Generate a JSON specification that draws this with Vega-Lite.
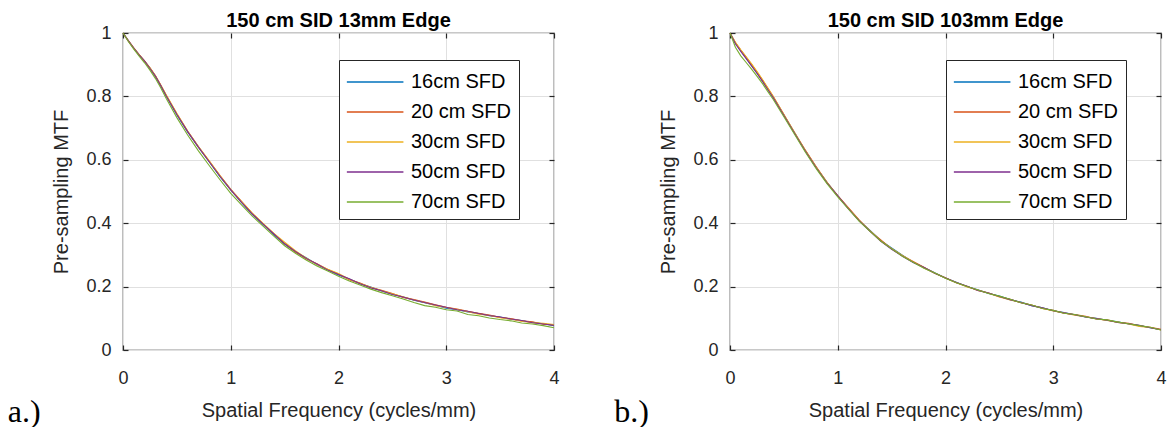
{
  "$schema": "https://vega.github.io/schema/vega-lite/v6.json",
  "background": "white",
  "padding": {"left": 7, "top": 10, "right": 5, "bottom": 0},
  "bounds": "flush",
  "spacing": 176,
  "config": {
    "font": "Liberation Sans",
    "view": {"stroke": "#262626", "strokeWidth": 1.2},
    "axis": {
      "domain": false,
      "grid": true,
      "gridColor": "#e0e0e0",
      "gridWidth": 1,
      "tickColor": "#262626",
      "tickSize": -5,
      "tickWidth": 1.2,
      "labelFlush": false,
      "labelFont": "Liberation Sans",
      "labelFontSize": 18,
      "labelColor": "#262626",
      "titleFont": "Liberation Sans",
      "titleFontSize": 20,
      "titleFontWeight": "normal",
      "titleColor": "#262626"
    },
    "legend": {
      "orient": "none",
      "legendX": 216,
      "legendY": 27,
      "title": null,
      "symbolType": "M-1,0H3",
      "symbolSize": 800,
      "symbolStrokeWidth": 1.4,
      "labelFont": "Liberation Sans",
      "labelFontSize": 20,
      "labelColor": "#000000",
      "labelOffset": 35,
      "labelLimit": 300,
      "padding": 7,
      "rowPadding": 5,
      "strokeColor": "#262626",
      "fillColor": "white"
    },
    "title": {
      "font": "Liberation Sans",
      "fontSize": 20,
      "fontWeight": "bold",
      "color": "#000000",
      "offset": -7,
      "baseline": "alphabetic",
      "anchor": "middle",
      "frame": "group"
    }
  },
  "resolve": {
    "scale": {"color": "independent", "x": "independent", "y": "independent"},
    "legend": {"color": "independent"}
  },
  "datasets": {
    "a": [
      {"f": 0, "s16": 1, "s20": 1, "s30": 1, "s50": 1, "s70": 1},
      {"f": 0.05, "s16": 0.975, "s20": 0.976, "s30": 0.974, "s50": 0.975, "s70": 0.973},
      {"f": 0.1, "s16": 0.952, "s20": 0.953, "s30": 0.951, "s50": 0.952, "s70": 0.949},
      {"f": 0.15, "s16": 0.931, "s20": 0.932, "s30": 0.931, "s50": 0.93, "s70": 0.927},
      {"f": 0.2, "s16": 0.911, "s20": 0.912, "s30": 0.91, "s50": 0.911, "s70": 0.906},
      {"f": 0.25, "s16": 0.889, "s20": 0.89, "s30": 0.89, "s50": 0.888, "s70": 0.883},
      {"f": 0.3, "s16": 0.864, "s20": 0.866, "s30": 0.865, "s50": 0.864, "s70": 0.857},
      {"f": 0.35, "s16": 0.834, "s20": 0.836, "s30": 0.836, "s50": 0.834, "s70": 0.827},
      {"f": 0.4, "s16": 0.802, "s20": 0.804, "s30": 0.805, "s50": 0.802, "s70": 0.794},
      {"f": 0.5, "s16": 0.742, "s20": 0.745, "s30": 0.746, "s50": 0.743, "s70": 0.733},
      {"f": 0.6, "s16": 0.688, "s20": 0.69, "s30": 0.691, "s50": 0.689, "s70": 0.678},
      {"f": 0.7, "s16": 0.64, "s20": 0.641, "s30": 0.642, "s50": 0.64, "s70": 0.628},
      {"f": 0.8, "s16": 0.594, "s20": 0.596, "s30": 0.597, "s50": 0.594, "s70": 0.582},
      {"f": 0.9, "s16": 0.547, "s20": 0.55, "s30": 0.55, "s50": 0.548, "s70": 0.537},
      {"f": 1.0, "s16": 0.505, "s20": 0.507, "s30": 0.506, "s50": 0.505, "s70": 0.494},
      {"f": 1.1, "s16": 0.466, "s20": 0.469, "s30": 0.468, "s50": 0.466, "s70": 0.458},
      {"f": 1.2, "s16": 0.428, "s20": 0.431, "s30": 0.432, "s50": 0.429, "s70": 0.422},
      {"f": 1.3, "s16": 0.396, "s20": 0.398, "s30": 0.399, "s50": 0.397, "s70": 0.391},
      {"f": 1.4, "s16": 0.364, "s20": 0.367, "s30": 0.368, "s50": 0.366, "s70": 0.359},
      {"f": 1.5, "s16": 0.334, "s20": 0.336, "s30": 0.34, "s50": 0.335, "s70": 0.329},
      {"f": 1.6, "s16": 0.31, "s20": 0.309, "s30": 0.313, "s50": 0.311, "s70": 0.305},
      {"f": 1.7, "s16": 0.291, "s20": 0.288, "s30": 0.29, "s50": 0.289, "s70": 0.284},
      {"f": 1.8, "s16": 0.27, "s20": 0.272, "s30": 0.27, "s50": 0.271, "s70": 0.265},
      {"f": 1.9, "s16": 0.253, "s20": 0.254, "s30": 0.255, "s50": 0.252, "s70": 0.249},
      {"f": 2.0, "s16": 0.237, "s20": 0.24, "s30": 0.241, "s50": 0.238, "s70": 0.233},
      {"f": 2.1, "s16": 0.224, "s20": 0.222, "s30": 0.223, "s50": 0.225, "s70": 0.218},
      {"f": 2.2, "s16": 0.209, "s20": 0.211, "s30": 0.21, "s50": 0.209, "s70": 0.205},
      {"f": 2.3, "s16": 0.199, "s20": 0.197, "s30": 0.198, "s50": 0.196, "s70": 0.192},
      {"f": 2.4, "s16": 0.186, "s20": 0.188, "s30": 0.187, "s50": 0.187, "s70": 0.181},
      {"f": 2.5, "s16": 0.176, "s20": 0.178, "s30": 0.177, "s50": 0.175, "s70": 0.171},
      {"f": 2.6, "s16": 0.167, "s20": 0.166, "s30": 0.168, "s50": 0.167, "s70": 0.161},
      {"f": 2.7, "s16": 0.157, "s20": 0.159, "s30": 0.158, "s50": 0.158, "s70": 0.15},
      {"f": 2.8, "s16": 0.149, "s20": 0.151, "s30": 0.15, "s50": 0.15, "s70": 0.14},
      {"f": 2.9, "s16": 0.141, "s20": 0.143, "s30": 0.14, "s50": 0.142, "s70": 0.135},
      {"f": 3.0, "s16": 0.132, "s20": 0.135, "s30": 0.134, "s50": 0.135, "s70": 0.127},
      {"f": 3.1, "s16": 0.127, "s20": 0.129, "s30": 0.128, "s50": 0.127, "s70": 0.123},
      {"f": 3.2, "s16": 0.12, "s20": 0.122, "s30": 0.121, "s50": 0.122, "s70": 0.112},
      {"f": 3.3, "s16": 0.115, "s20": 0.116, "s30": 0.113, "s50": 0.115, "s70": 0.108},
      {"f": 3.4, "s16": 0.108, "s20": 0.11, "s30": 0.109, "s50": 0.109, "s70": 0.101},
      {"f": 3.5, "s16": 0.104, "s20": 0.103, "s30": 0.102, "s50": 0.104, "s70": 0.096},
      {"f": 3.6, "s16": 0.097, "s20": 0.099, "s30": 0.097, "s50": 0.098, "s70": 0.092},
      {"f": 3.7, "s16": 0.093, "s20": 0.092, "s30": 0.091, "s50": 0.093, "s70": 0.085},
      {"f": 3.8, "s16": 0.087, "s20": 0.089, "s30": 0.086, "s50": 0.086, "s70": 0.082},
      {"f": 3.9, "s16": 0.083, "s20": 0.081, "s30": 0.084, "s50": 0.082, "s70": 0.077},
      {"f": 4.0, "s16": 0.077, "s20": 0.079, "s30": 0.08, "s50": 0.078, "s70": 0.07}
    ],
    "b": [
      {"f": 0, "s16": 1, "s20": 1, "s30": 1, "s50": 1, "s70": 1},
      {"f": 0.05, "s16": 0.968, "s20": 0.97, "s30": 0.971, "s50": 0.966, "s70": 0.955},
      {"f": 0.1, "s16": 0.944, "s20": 0.946, "s30": 0.947, "s50": 0.942, "s70": 0.928},
      {"f": 0.15, "s16": 0.921, "s20": 0.924, "s30": 0.925, "s50": 0.919, "s70": 0.907},
      {"f": 0.2, "s16": 0.898, "s20": 0.901, "s30": 0.903, "s50": 0.896, "s70": 0.886},
      {"f": 0.25, "s16": 0.874, "s20": 0.877, "s30": 0.879, "s50": 0.873, "s70": 0.864},
      {"f": 0.3, "s16": 0.85, "s20": 0.852, "s30": 0.854, "s50": 0.848, "s70": 0.841},
      {"f": 0.35, "s16": 0.824, "s20": 0.826, "s30": 0.827, "s50": 0.822, "s70": 0.816},
      {"f": 0.4, "s16": 0.798, "s20": 0.8, "s30": 0.8, "s50": 0.796, "s70": 0.791},
      {"f": 0.5, "s16": 0.741, "s20": 0.743, "s30": 0.743, "s50": 0.74, "s70": 0.736},
      {"f": 0.6, "s16": 0.685, "s20": 0.684, "s30": 0.686, "s50": 0.683, "s70": 0.68},
      {"f": 0.7, "s16": 0.628, "s20": 0.63, "s30": 0.629, "s50": 0.627, "s70": 0.624},
      {"f": 0.8, "s16": 0.576, "s20": 0.578, "s30": 0.577, "s50": 0.575, "s70": 0.572},
      {"f": 0.9, "s16": 0.529, "s20": 0.528, "s30": 0.53, "s50": 0.527, "s70": 0.525},
      {"f": 1.0, "s16": 0.486, "s20": 0.487, "s30": 0.485, "s50": 0.486, "s70": 0.483},
      {"f": 1.1, "s16": 0.446, "s20": 0.448, "s30": 0.447, "s50": 0.445, "s70": 0.444},
      {"f": 1.2, "s16": 0.408, "s20": 0.41, "s30": 0.409, "s50": 0.407, "s70": 0.406},
      {"f": 1.3, "s16": 0.377, "s20": 0.375, "s30": 0.376, "s50": 0.374, "s70": 0.374},
      {"f": 1.4, "s16": 0.345, "s20": 0.347, "s30": 0.344, "s50": 0.343, "s70": 0.344},
      {"f": 1.5, "s16": 0.322, "s20": 0.319, "s30": 0.32, "s50": 0.318, "s70": 0.319},
      {"f": 1.6, "s16": 0.299, "s20": 0.297, "s30": 0.298, "s50": 0.296, "s70": 0.296},
      {"f": 1.7, "s16": 0.277, "s20": 0.279, "s30": 0.278, "s50": 0.276, "s70": 0.277},
      {"f": 1.8, "s16": 0.26, "s20": 0.261, "s30": 0.259, "s50": 0.26, "s70": 0.258},
      {"f": 1.9, "s16": 0.244, "s20": 0.242, "s30": 0.243, "s50": 0.242, "s70": 0.243},
      {"f": 2.0, "s16": 0.227, "s20": 0.228, "s30": 0.226, "s50": 0.227, "s70": 0.226},
      {"f": 2.1, "s16": 0.214, "s20": 0.212, "s30": 0.213, "s50": 0.213, "s70": 0.212},
      {"f": 2.2, "s16": 0.2, "s20": 0.201, "s30": 0.199, "s50": 0.201, "s70": 0.2},
      {"f": 2.3, "s16": 0.19, "s20": 0.188, "s30": 0.189, "s50": 0.188, "s70": 0.189},
      {"f": 2.4, "s16": 0.178, "s20": 0.18, "s30": 0.179, "s50": 0.18, "s70": 0.178},
      {"f": 2.5, "s16": 0.17, "s20": 0.168, "s30": 0.167, "s50": 0.169, "s70": 0.17},
      {"f": 2.6, "s16": 0.159, "s20": 0.16, "s30": 0.158, "s50": 0.159, "s70": 0.16},
      {"f": 2.7, "s16": 0.151, "s20": 0.149, "s30": 0.15, "s50": 0.15, "s70": 0.149},
      {"f": 2.8, "s16": 0.14, "s20": 0.142, "s30": 0.141, "s50": 0.14, "s70": 0.142},
      {"f": 2.9, "s16": 0.133, "s20": 0.131, "s30": 0.132, "s50": 0.133, "s70": 0.131},
      {"f": 3.0, "s16": 0.124, "s20": 0.125, "s30": 0.123, "s50": 0.124, "s70": 0.125},
      {"f": 3.1, "s16": 0.118, "s20": 0.116, "s30": 0.117, "s50": 0.117, "s70": 0.116},
      {"f": 3.2, "s16": 0.111, "s20": 0.112, "s30": 0.11, "s50": 0.111, "s70": 0.112},
      {"f": 3.3, "s16": 0.104, "s20": 0.106, "s30": 0.105, "s50": 0.104, "s70": 0.105},
      {"f": 3.4, "s16": 0.1, "s20": 0.098, "s30": 0.099, "s50": 0.099, "s70": 0.098},
      {"f": 3.5, "s16": 0.094, "s20": 0.095, "s30": 0.093, "s50": 0.094, "s70": 0.095},
      {"f": 3.6, "s16": 0.089, "s20": 0.087, "s30": 0.088, "s50": 0.087, "s70": 0.088},
      {"f": 3.7, "s16": 0.082, "s20": 0.084, "s30": 0.082, "s50": 0.083, "s70": 0.083},
      {"f": 3.8, "s16": 0.077, "s20": 0.076, "s30": 0.074, "s50": 0.078, "s70": 0.077},
      {"f": 3.9, "s16": 0.07, "s20": 0.072, "s30": 0.071, "s50": 0.07, "s70": 0.072},
      {"f": 4.0, "s16": 0.064, "s20": 0.065, "s30": 0.063, "s50": 0.064, "s70": 0.063}
    ]
  },
  "hconcat": [
    {
      "width": 431,
      "height": 317,
      "title": {"text": "150 cm SID 13mm Edge"},
      "resolve": {"axis": {"x": "independent", "y": "independent"}},
      "layer": [
        {
          "data": {"name": "a"},
          "transform": [{"fold": ["s16", "s20", "s30", "s50", "s70"], "as": ["series", "mtf"]}],
          "mark": {"type": "line", "strokeWidth": 1.1},
          "encoding": {
            "x": {"field": "f", "type": "quantitative", "scale": {"domain": [0, 4], "nice": false},
              "axis": {"values": [0, 1, 2, 3, 4], "format": "d", "title": "Spatial Frequency (cycles/mm)", "labelPadding": 24, "titlePadding": 13}},
            "y": {"field": "mtf", "type": "quantitative", "scale": {"domain": [0, 1], "nice": false},
              "axis": {"values": [0, 0.2, 0.4, 0.6, 0.8, 1], "format": "~g", "title": "Pre-sampling MTF", "labelPadding": 17, "titlePadding": 14}},
            "color": {"field": "series", "type": "nominal",
              "scale": {"domain": ["s16", "s20", "s30", "s50", "s70"], "range": ["#0072BD", "#D95319", "#EDB120", "#7E2F8E", "#77AC30"]},
              "legend": {"labelExpr": "{'s16': '16cm SFD', 's20': '20 cm SFD', 's30': '30cm SFD', 's50': '50cm SFD', 's70': '70cm SFD'}[datum.label]"}}
          }
        },
        {
          "data": {"values": [{"lab": "a.)"}]},
          "mark": {"type": "text", "align": "left", "baseline": "alphabetic", "font": "Liberation Serif", "fontSize": 32, "color": "#000000", "clip": false},
          "encoding": {
            "x": {"datum": -1.07, "type": "quantitative", "scale": {"domain": [0, 4], "nice": false},
              "axis": {"orient": "top", "values": [0, 1, 2, 3, 4], "labels": false, "grid": false, "title": null}},
            "y": {"datum": -0.226, "type": "quantitative", "scale": {"domain": [0, 1], "nice": false},
              "axis": {"orient": "right", "values": [0, 0.2, 0.4, 0.6, 0.8, 1], "labels": false, "grid": false, "title": null}},
            "text": {"field": "lab"}
          }
        }
      ]
    },
    {
      "width": 431,
      "height": 317,
      "title": {"text": "150 cm SID 103mm Edge"},
      "resolve": {"axis": {"x": "independent", "y": "independent"}},
      "layer": [
        {
          "data": {"name": "b"},
          "transform": [{"fold": ["s16", "s20", "s30", "s50", "s70"], "as": ["series", "mtf"]}],
          "mark": {"type": "line", "strokeWidth": 1.1},
          "encoding": {
            "x": {"field": "f", "type": "quantitative", "scale": {"domain": [0, 4], "nice": false},
              "axis": {"values": [0, 1, 2, 3, 4], "format": "d", "title": "Spatial Frequency (cycles/mm)", "labelPadding": 24, "titlePadding": 13}},
            "y": {"field": "mtf", "type": "quantitative", "scale": {"domain": [0, 1], "nice": false},
              "axis": {"values": [0, 0.2, 0.4, 0.6, 0.8, 1], "format": "~g", "title": "Pre-sampling MTF", "labelPadding": 17, "titlePadding": 14}},
            "color": {"field": "series", "type": "nominal",
              "scale": {"domain": ["s16", "s20", "s30", "s50", "s70"], "range": ["#0072BD", "#D95319", "#EDB120", "#7E2F8E", "#77AC30"]},
              "legend": {"labelExpr": "{'s16': '16cm SFD', 's20': '20 cm SFD', 's30': '30cm SFD', 's50': '50cm SFD', 's70': '70cm SFD'}[datum.label]"}}
          }
        },
        {
          "data": {"values": [{"lab": "b.)"}]},
          "mark": {"type": "text", "align": "left", "baseline": "alphabetic", "font": "Liberation Serif", "fontSize": 32, "color": "#000000", "clip": false},
          "encoding": {
            "x": {"datum": -1.075, "type": "quantitative", "scale": {"domain": [0, 4], "nice": false},
              "axis": {"orient": "top", "values": [0, 1, 2, 3, 4], "labels": false, "grid": false, "title": null}},
            "y": {"datum": -0.226, "type": "quantitative", "scale": {"domain": [0, 1], "nice": false},
              "axis": {"orient": "right", "values": [0, 0.2, 0.4, 0.6, 0.8, 1], "labels": false, "grid": false, "title": null}},
            "text": {"field": "lab"}
          }
        }
      ]
    }
  ]
}
